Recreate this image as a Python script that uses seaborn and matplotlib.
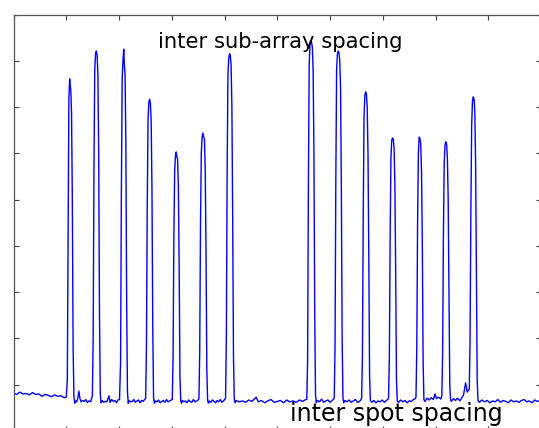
import matplotlib
matplotlib.use("Agg")
import matplotlib.pyplot as plt
import pandas as pd
import seaborn as sns

# Scan position along the array and measured intensity (one line per
# baseline stretch / spot peak).
position = [
    0, 6, 12, 18, 24, 30, 36, 42, 48, 54, 60, 66, 72, 78, 84, 90, 96,
    100, 102, 103.5, 105, 106.5, 107.5, 108.5, 110, 111.5, 113, 114.5, 116,
    118, 120, 122, 124, 126, 128, 131, 134, 137, 140, 143, 146, 148,
    149.5, 151, 152.5, 154, 155.5, 157, 158.5, 160, 161.5, 163, 164.5, 166,
    168, 171, 174, 177, 181, 183, 186, 189, 192, 195, 198,
    201, 203, 204.5, 206, 207.5, 209, 210, 211.5, 213, 214.5, 216, 217.5,
    219, 222, 225, 228, 231, 234, 237, 240, 243, 246, 249,
    250.5, 252, 253.5, 255, 256.5, 258, 259.5, 261, 262.5, 264, 265.5, 267,
    269, 272, 275, 278, 281, 284, 287, 290, 293, 296, 299,
    301, 302.5, 304, 305.5, 307, 308.5, 310, 311, 312.5, 314, 315.5, 317,
    318.5, 320, 323, 326, 329, 332, 335, 338, 341, 344, 347, 350,
    351.5, 353, 354.5, 356, 357.5, 359, 360.5, 362, 363.5, 365, 366.5, 368,
    369.5, 371, 374, 377, 380, 383, 386, 389, 392, 395, 398, 401,
    402, 403.5, 405, 406.5, 408, 409.5, 411, 412.5, 414, 415.5, 417, 418.5,
    420, 422, 428, 434, 440, 446, 452, 460, 464, 470, 476, 482, 488, 494,
    500, 506, 512, 518, 524, 530, 536, 542, 548, 554,
    556, 557.5, 559, 560.5, 562, 563.5, 565, 566.5, 568, 569.5, 571, 572.5,
    574, 576, 580, 584, 588, 592, 596, 600, 604, 607,
    608, 609.5, 611, 612.5, 614, 615.5, 617, 618.5, 620, 621.5, 623, 624.5,
    626, 628, 632, 636, 640, 644, 648, 652, 656, 659,
    660, 661.5, 663, 664.5, 666, 667.5, 669, 670.5, 672, 673.5, 675, 676.5,
    679, 683, 687, 691, 695, 699, 703, 707, 710,
    711, 712.5, 714, 715.5, 717, 718.5, 720, 721.5, 723, 724.5, 726, 727.5,
    730, 734, 738, 742, 746, 750, 754, 758, 762,
    763, 764.5, 766, 767.5, 769, 770.5, 772, 773.5, 775, 776.5, 778,
    780, 784, 788, 792, 796, 799, 802, 806, 810,
    812, 813.5, 815, 816.5, 818, 819.5, 821, 822.5, 824, 825.5, 827, 828.5,
    830, 834, 838, 842, 846, 850, 853, 855, 857, 858.5, 860, 862,
    864, 865.5, 867, 868.5, 870, 871.5, 873, 874.5, 876, 877.5, 879, 880.5,
    883, 888, 893, 898, 903, 908, 913, 918, 923, 928, 933, 938, 943, 948,
    953, 958, 963, 968, 973, 978, 983, 988, 993, 1000,
]

intensity = [
    82, 79, 84, 80, 81, 78, 83, 79, 80, 75, 79, 77, 74, 78, 75, 76, 72,
    73, 110, 430, 720, 761, 745, 740, 690, 500, 180, 75, 60,
    65, 63, 72, 86, 70, 63, 66, 64, 68, 62, 65, 63, 70,
    75, 200, 560, 780, 815, 821, 812, 770, 600, 250, 80, 61,
    66, 62, 64, 63, 76, 62, 68, 64, 66, 61, 67,
    68, 150, 520, 760, 800, 825, 795, 770, 620, 280, 85, 60,
    66, 63, 64, 68, 62, 65, 67, 61, 66, 64, 69,
    70, 180, 480, 670, 710, 717, 708, 670, 520, 220, 72, 60,
    65, 63, 67, 61, 64, 66, 62, 68, 63, 65, 67,
    68, 160, 420, 560, 595, 603, 590, 588, 530, 360, 120, 65,
    60, 66, 63, 65, 61, 67, 64, 62, 68, 63, 65, 67,
    70, 170, 450, 600, 635, 644, 636, 630, 560, 380, 130, 66,
    60, 65, 62, 67, 64, 61, 66, 63, 68, 62, 65, 69,
    72, 200, 560, 770, 805, 815, 812, 790, 700, 460, 160, 70,
    61, 66, 63, 65, 62, 67, 64, 73, 63, 66, 61, 65, 68, 62,
    64, 66, 61, 67, 63, 65, 62, 67, 64, 68,
    68, 150, 520, 790, 835, 843, 840, 830, 780, 600, 260, 80,
    61, 66, 63, 69, 62, 65, 67, 62, 66, 69,
    72, 180, 540, 780, 815, 821, 818, 800, 740, 520, 200, 72,
    61, 66, 63, 67, 62, 65, 68, 62, 64, 68,
    72, 170, 470, 680, 725, 733, 728, 700, 600, 380, 120, 66,
    62, 66, 61, 65, 63, 67, 62, 66, 69,
    72, 160, 420, 590, 628, 633, 630, 610, 530, 340, 110, 65,
    62, 67, 63, 66, 61, 65, 64, 68, 70,
    74, 180, 450, 600, 635, 632, 620, 560, 400, 150, 68,
    64, 71, 67, 72, 68, 80, 70, 73, 69,
    76, 170, 430, 580, 618, 625, 620, 590, 500, 300, 100, 68,
    64, 70, 66, 71, 65, 72, 78, 90, 104, 95, 84, 88,
    90, 200, 470, 660, 712, 722, 718, 690, 580, 350, 110, 66,
    62, 67, 63, 66, 61, 65, 63, 68, 62, 66, 64, 61, 67, 63,
    65, 62, 66, 68, 63, 65, 61, 67, 64, 66,
]

subarray_label = "inter sub-array spacing"
spot_label = "inter spot spacing"

x_ticks = list(range(0, 1001, 100))
y_ticks = list(range(0, 901, 100))

sns.set_style("ticks")

fig = plt.figure(figsize=(5.39, 4.28), dpi=100)
ax = fig.add_axes([0.02505, -0.00701, 0.9787, 0.9731])

scan = pd.DataFrame({"position": position, "intensity": intensity})
sns.lineplot(data=scan, x="position", y="intensity", ax=ax,
             color="#0000ff", linewidth=1.0, estimator=None, sort=False)

ax.set_xlim(0, 1000)
ax.set_ylim(0, 900)
ax.set_xticks(x_ticks)
ax.set_yticks(y_ticks)
ax.set_xticklabels([])
ax.set_yticklabels([])
ax.set_xlabel("")
ax.set_ylabel("")
ax.tick_params(direction="in", length=3.5, width=0.8, color="#444444",
               top=True, right=True, bottom=True, left=True)
for side in ax.spines.values():
    side.set_visible(True)
    side.set_color("#555555")
    side.set_linewidth(0.9)

ax.text(274, 828, subarray_label, fontsize=15.2, ha="left",
        va="baseline", color="black", family="DejaVu Sans")
ax.text(524, 21.6, spot_label, fontsize=17, ha="left",
        va="baseline", color="black", family="DejaVu Sans")

fig.savefig("out.png", dpi=100)
